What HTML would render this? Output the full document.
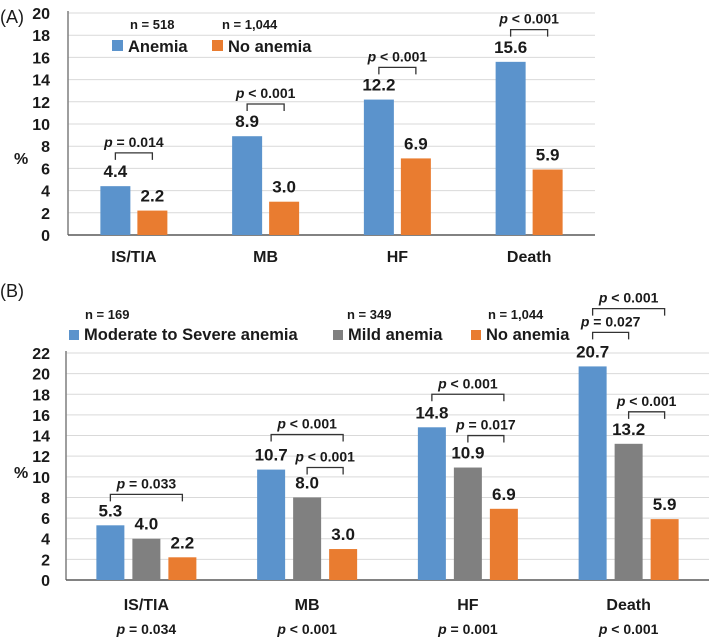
<!DOCTYPE html>
<html><head><meta charset="utf-8"><style>
html,body{margin:0;padding:0;background:#fff}
svg{display:block;font-family:"Liberation Sans",Arial,sans-serif}
.t{font-weight:bold;font-size:16px;fill:#1a1a1a}
.v{font-weight:bold;font-size:17px;fill:#1a1a1a}
.p{font-weight:bold;font-size:14px;fill:#1a1a1a}
.lg{font-weight:bold;font-size:16.5px;fill:#1a1a1a}
.n{font-weight:bold;font-size:13px;fill:#1a1a1a}
</style></head><body>
<svg id="chart" width="709" height="639"></svg>
<script>
const categories = ["IS/TIA","MB","HF","Death"];
const aAnemia = [4.4, 8.9, 12.2, 15.6];
const aNoAnemia = [2.2, 3.0, 6.9, 5.9];
const aTicks = [0,2,4,6,8,10,12,14,16,18,20];
const aBrackets = [[0,0,1,7.4,"= 0.014"],[1,0,1,11.8,"< 0.001"],[2,0,1,15.1,"< 0.001"],[3,0,1,18.5,"< 0.001"]];
const bSevere = [5.3, 10.7, 14.8, 20.7];
const bMild = [4.0, 8.0, 10.9, 13.2];
const bNone = [2.2, 3.0, 6.9, 5.9];
const bTicks = [0,2,4,6,8,10,12,14,16,18,20,22];
const bBrackets = [[0,0,2,8.3,"= 0.033"],[1,0,2,14.1,"< 0.001"],[1,1,2,10.9,"< 0.001"],[2,0,2,18.0,"< 0.001"],[2,1,2,14.0,"= 0.017"],[3,0,2,26.3,"< 0.001"],[3,0,1,24.0,"= 0.027"],[3,1,2,16.3,"< 0.001"]];
const bOverall = ["= 0.034","< 0.001","= 0.001","< 0.001"];

const svg = document.getElementById('chart');
const NS = "http://www.w3.org/2000/svg";
function mk(tag, attrs, text){const e=document.createElementNS(NS,tag);for(const k in attrs)e.setAttribute(k,attrs[k]);if(text!==undefined)e.textContent=text;svg.appendChild(e);return e;}
function ptext(x,y,rest,cls){const t=mk('text',{x:x,y:y,'text-anchor':'middle','class':cls||'p'});
  const i=document.createElementNS(NS,'tspan');i.setAttribute('font-style','italic');i.textContent='p';t.appendChild(i);
  const r=document.createElementNS(NS,'tspan');r.textContent=' '+rest;t.appendChild(r);return t;}

function panel(cfg){
  const y=v=>cfg.y0-(v/cfg.ymax)*(cfg.y0-cfg.yTop);
  const groupW=(cfg.x1-cfg.x0)/categories.length;
  const cx=i=>cfg.x0+groupW*(i+0.5);
  cfg.ticks.forEach(t=>{
    if(t>0){const g=mk('line',{x1:cfg.x0,x2:cfg.x1,y1:y(t),y2:y(t),stroke:'#d9d9d9','stroke-width':1});
    }
    const l=mk('text',{x:50,y:y(t)+6,'text-anchor':'end','class':'t'},String(t));
    
  });
  const ax=mk('line',{x1:cfg.x0,x2:cfg.x0,y1:cfg.yTop-2,y2:cfg.y0,stroke:'#7f7f7f','stroke-width':1.5});
  
  const bx=mk('line',{x1:cfg.x0,x2:cfg.x1,y1:cfg.y0,y2:cfg.y0,stroke:'#595959','stroke-width':1.5});
  
  const yt=mk('text',{x:14,y:cfg.pctY,'class':'t'},'%');
  
  const ns=cfg.series.length;
  const barX=(i,s)=>cx(i)-(ns*cfg.bw+(ns-1)*cfg.gap)/2+s*(cfg.bw+cfg.gap);
  cfg.series.forEach((ser,s)=>{
    ser.vals.forEach((v,i)=>{
      const r=mk('rect',{x:barX(i,s),y:y(v),width:cfg.bw,height:cfg.y0-y(v),fill:ser.color});
      
      
      const l=mk('text',{x:barX(i,s)+cfg.bw/2,y:y(v)-9,'text-anchor':'middle','class':'v'},v.toFixed(1));
      
    });
  });
  categories.forEach((c,i)=>{
    const l=mk('text',{x:cx(i),y:cfg.catY,'text-anchor':'middle','class':'t'},c);
    
  });
  cfg.brackets.forEach(b=>{
    const xa=barX(b[0],b[1])+cfg.bw/2, xb=barX(b[0],b[2])+cfg.bw/2, yy=y(b[3]);
    const p=mk('path',{d:`M${xa},${yy+7}V${yy}H${xb}V${yy+7}`,fill:'none',stroke:'#333','stroke-width':1.3});
    
    const t=ptext((xa+xb)/2,yy-6,b[4]);
    
  });
}

// Panel A
const la=mk('text',{x:0,y:23,'font-size':'18px',fill:'#1a1a1a'},'(A)');

panel({x0:68,x1:595,y0:235,yTop:13,ymax:20,ticks:aTicks,bw:30,gap:7,pctY:164,catY:262,
  series:[{key:'anemia',vals:aAnemia,color:'#5b93cc'},{key:'no-anemia',vals:aNoAnemia,color:'#e97c30'}],brackets:aBrackets});
[[130,'n = 518'],[222,'n = 1,044']].forEach(d=>{const t=mk('text',{x:d[0],y:29,'class':'n'},d[1]);});
[[112,'#5b93cc','Anemia','legend-anemia'],[212,'#e97c30','No anemia','legend-no-anemia']].forEach(d=>{
  const r=mk('rect',{x:d[0],y:40,width:11,height:11,fill:d[1]});
  const t=mk('text',{x:d[0]+16,y:52,'class':'lg'},d[2]);
});

// Panel B
const lb=mk('text',{x:0,y:297,'font-size':'18px',fill:'#1a1a1a'},'(B)');

panel({x0:66,x1:709,y0:580,yTop:353,ymax:22,ticks:bTicks,bw:28,gap:8,pctY:478,catY:610,
  series:[{key:'severe',vals:bSevere,color:'#5b93cc'},{key:'mild',vals:bMild,color:'#808080'},{key:'none',vals:bNone,color:'#e97c30'}],brackets:bBrackets});
[[85,'n = 169'],[347,'n = 349'],[488,'n = 1,044']].forEach(d=>{const t=mk('text',{x:d[0],y:319,'class':'n'},d[1]);});
[[69,'#5b93cc','Moderate to Severe anemia','legend-severe'],[333,'#808080','Mild anemia','legend-mild'],[471,'#e97c30','No anemia','legend-no-anemia-b']].forEach(d=>{
  const r=mk('rect',{x:d[0],y:330,width:10,height:10,fill:d[1]});
  const t=mk('text',{x:d[0]+15,y:340,'class':'lg'},d[2]);
});
bOverall.forEach((s,i)=>{const t=ptext(66+160.75*(i+0.5),634,s);});
</script>
</body></html>
